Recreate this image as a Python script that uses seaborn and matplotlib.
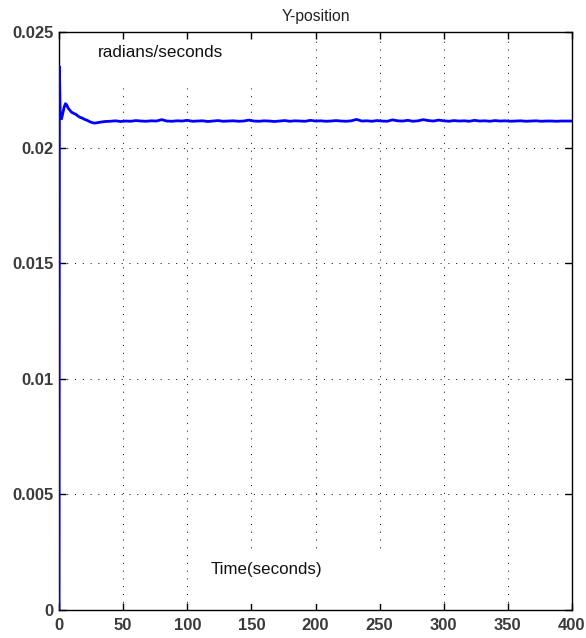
import numpy as np
import pandas as pd
import matplotlib
matplotlib.use("Agg")
import matplotlib.pyplot as plt
from matplotlib.patches import Rectangle
import seaborn as sns

# Transient part of the response (time in seconds, position in radians/seconds)
time_early = [0, 0.3, 1, 2, 3, 4, 5, 6, 7, 8, 9, 10, 11, 12, 13, 14,
              16, 18, 20, 22, 24, 26, 28, 30]
pos_early = [0.0, 0.02350, 0.02128, 0.02125, 0.02150, 0.02175, 0.02190,
             0.02185, 0.02172, 0.02165, 0.02158, 0.02152, 0.02150, 0.02146,
             0.02145, 0.02140, 0.02132, 0.02128, 0.02122, 0.02118, 0.02112,
             0.02108, 0.02106, 0.02108]

# Steady-state part, sampled every 4 s from 32 s to 400 s
time_flat = list(range(32, 401, 4))
pos_flat = [
    0.02110, 0.02113, 0.02114, 0.02116, 0.02113, 0.02115, 0.02114, 0.02117, 0.02115, 0.02114,
    0.02116, 0.02115, 0.02121, 0.02115, 0.02114, 0.02116, 0.02115, 0.02118, 0.02114, 0.02115,
    0.02116, 0.02113, 0.02115, 0.02117, 0.02114, 0.02115, 0.02116, 0.02114, 0.02115, 0.02119,
    0.02115, 0.02114, 0.02116, 0.02115, 0.02113, 0.02115, 0.02117, 0.02114, 0.02116, 0.02115,
    0.02114, 0.02118, 0.02115, 0.02116, 0.02114, 0.02115, 0.02117, 0.02115, 0.02114, 0.02116,
    0.02122, 0.02115, 0.02116, 0.02114, 0.02117, 0.02115, 0.02114, 0.02120, 0.02116, 0.02115,
    0.02118, 0.02114, 0.02116, 0.02121, 0.02117, 0.02115, 0.02119, 0.02116, 0.02114, 0.02117,
    0.02115, 0.02116, 0.02114, 0.02118, 0.02115, 0.02116, 0.02114, 0.02117, 0.02115, 0.02116,
    0.02114, 0.02115, 0.02116, 0.02114, 0.02115, 0.02116, 0.02114, 0.02115, 0.02115, 0.02114,
    0.02115, 0.02115, 0.02115,
]

x_ticks = [0, 50, 100, 150, 200, 250, 300, 350, 400]
y_ticks = [0, 0.005, 0.01, 0.015, 0.02, 0.025]
y_tick_labels = ["0", "0.005", "0.01", "0.015", "0.02", "0.025"]

df = pd.DataFrame({"time": time_early + time_flat,
                   "position": pos_early + pos_flat})

sns.set_theme(style="ticks", rc={
    "xtick.direction": "in", "ytick.direction": "in",
    "xtick.top": True, "ytick.right": True,
    "axes.edgecolor": "black", "axes.linewidth": 1.0,
})
plt.rcParams["font.family"] = ["Liberation Sans", "DejaVu Sans"]

fig = plt.figure(figsize=(5.86, 6.38), dpi=100)
ax = fig.add_axes([0.1007, 0.0439, 0.8754, 0.9059])

sns.lineplot(data=df, x="time", y="position", ax=ax, color="#0000ff",
             linewidth=2.0, estimator=None, sort=True, zorder=3)

ax.set_xlim(0, 400)
ax.set_ylim(0, 0.025)
ax.set_xticks(x_ticks)
ax.set_xticklabels([str(t) for t in x_ticks])
ax.set_yticks(y_ticks)
ax.set_yticklabels(y_tick_labels)
ax.tick_params(axis="both", which="both", length=5, width=1, color="black",
               labelsize=12, labelcolor="#3a3a3a", top=True, right=True)
ax.tick_params(axis="x", pad=6)
ax.tick_params(axis="y", pad=4)
for lbl in ax.get_xticklabels() + ax.get_yticklabels():
    lbl.set_fontweight("bold")

ax.set_axisbelow(True)
ax.grid(True, color="black", linewidth=0.7, linestyle=(0, (1, 7)))

# White label backgrounds that sit over the grid
ax.add_patch(Rectangle((1, 0.0228), 187, 0.00185, facecolor="white",
                       edgecolor="none", zorder=1))
ax.add_patch(Rectangle((110, 0.00025), 156, 0.00217, facecolor="white",
                       edgecolor="none", zorder=1))

ax.text(79, 0.02413, "radians/seconds", ha="center", va="center",
        fontsize=12.3, color="#111111", zorder=2)
ax.text(162, 0.00173, "Time(seconds)", ha="center", va="center",
        fontsize=12.2, color="#111111", zorder=2)

ax.set_title("Y-position", fontsize=11.3, color="#222222", pad=8)
ax.set_xlabel("")
ax.set_ylabel("")
for s in ax.spines.values():
    s.set_visible(True)
    s.set_color("black")

fig.savefig("out.png", dpi=100)
